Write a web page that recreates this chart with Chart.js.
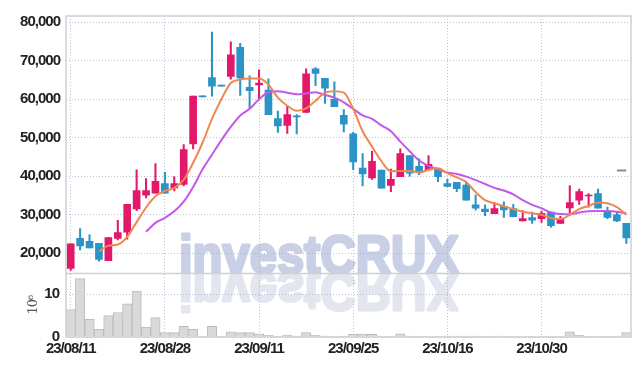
<!DOCTYPE html>
<html><head><meta charset="utf-8">
<script src="https://cdn.jsdelivr.net/npm/chart.js@4.4.0/dist/chart.umd.min.js"></script>
<style>html,body{margin:0;padding:0;background:#fff;}#wrap{width:639px;height:366px;}</style>
</head><body><div id="wrap"><canvas id="c" width="639" height="366"></canvas></div>
<script>
const dates = ["23/08/11","23/08/14","23/08/16","23/08/17","23/08/18","23/08/21","23/08/22","23/08/23","23/08/24","23/08/25",
"23/08/28","23/08/29","23/08/30","23/08/31","23/09/01","23/09/04","23/09/05","23/09/06","23/09/07","23/09/08",
"23/09/11","23/09/12","23/09/13","23/09/14","23/09/15","23/09/18","23/09/19","23/09/20","23/09/21","23/09/22",
"23/09/25","23/09/26","23/09/27","23/10/04","23/10/05","23/10/06","23/10/10","23/10/11","23/10/12","23/10/13",
"23/10/16","23/10/17","23/10/18","23/10/19","23/10/20","23/10/23","23/10/24","23/10/25","23/10/26","23/10/27",
"23/10/30","23/10/31","23/11/01","23/11/02","23/11/03","23/11/06","23/11/07","23/11/08","23/11/09","23/11/10"];
const tickLabels = ["23/08/11","23/08/28","23/09/11","23/09/25","23/10/16","23/10/30"];
const openP  = [16100,23900,23100,22600,18100,23900,25500,31500,35100,35600,38100,37000,37900,48400,60900,65600,63700,65900,73500,63100,
63700,62400,55000,53200,55700,56600,67900,65400,60000,55800,51000,42100,39600,41600,37600,39900,45400,42600,41700,41900,
38100,38400,37700,32600,31500,30300,32200,31600,28400,29300,29000,30700,27800,31800,33800,34900,35500,31000,30000,27800];
const highP  = [22500,26400,24800,22600,24100,28600,32700,41700,39400,43300,41000,39900,48200,60800,60900,77400,63700,74900,74500,66100,
67600,65300,56900,58300,56000,67900,68200,65400,64500,57300,51400,45900,46500,41600,41900,47100,45400,44500,45400,41900,
39200,38400,38600,35100,32600,33200,33400,32700,31100,30700,31000,30700,29600,37600,36700,35500,36700,32000,30800,27800];
const lowP   = [15600,20900,21400,18000,18100,23500,23700,31100,34400,35600,35600,36200,37500,47100,60600,60800,63400,65200,61000,57700,
60000,56000,51400,51100,51000,56600,63500,58900,58100,51500,41700,37500,39200,36900,36000,39900,40000,40400,41700,38600,
37400,36000,33800,31200,29800,30300,29300,29500,28400,27800,28000,26800,27800,30400,32700,32000,31700,29000,28200,22600];
const closeP = [22500,21900,21400,18400,24100,25400,32700,36300,36300,38700,35600,38100,46900,60800,60600,63400,63400,71500,65500,62200,
64200,56000,53100,56000,55400,66600,66700,62900,58100,53500,43700,40600,43900,36900,39200,45900,40800,41000,43100,39900,
37400,36800,33800,31700,30800,31600,31300,29500,29000,28600,30400,27200,29100,33200,36000,35100,31700,29300,28400,24000];
const volume = [6.4,13.6,4.1,1.8,5.0,5.7,7.7,10.7,2.3,4.5,1.0,1.0,2.5,1.8,0.05,2.5,0.05,1.2,1.0,1.0,
0.75,0.45,0.2,0.45,0.2,1.0,0.45,0.2,0.15,0.2,0.6,0.7,0.6,0.2,0.15,0.75,0.2,0.15,0.1,0.15,
0.2,0.2,0.2,0.2,0.15,0.2,0.2,0.1,0.15,0.1,0.1,0.2,0.1,1.2,0.45,0.1,0.1,0.15,0.2,1.0];
const ma5 = [null,null,null,20500,22000,22300,24300,28100,31900,34800,36200,37000,39100,43500,48700,54900,60000,64200,65100,65400,
65400,63800,60400,58300,57000,57600,59600,61700,62100,61700,57500,51700,47700,43900,41300,41400,41400,41000,41700,42100,
40800,39700,38500,35900,33800,33000,32200,31500,30800,30400,30000,29200,28900,30000,31500,32300,33200,33000,32000,30000];
const ma10 = [null,null,null,null,null,null,null,null,25600,27900,29200,30900,33400,37200,41800,45600,49400,52800,55800,57500,
60000,61800,62100,61700,61300,61500,61800,61100,60400,59200,57500,55800,54900,53200,51700,49000,46500,44100,42700,41800,
41000,40600,39900,39000,38000,37000,36300,35300,33800,32600,31700,30600,30200,30100,30600,30900,31000,31000,30800,30400];
const refMark = [null,null,null,null,null,null,null,null,null,null,null,null,null,null,null,null,null,null,null,null,
null,null,null,null,null,null,null,null,null,null,null,null,null,null,null,null,null,null,null,null,
null,null,null,null,null,null,null,null,null,null,null,null,null,null,null,null,null,null,41500,41500];
const priceTicks = [20000,30000,40000,50000,60000,70000,80000];
const volumeTicks = [0,10];
const watermark = "investCRUX";

const UP = '#e2196b', DOWN = '#2c93c6';
const upDown = dates.map((d,i)=> closeP[i] >= openP[i] ? UP : DOWN);
const bodies = dates.map((d,i)=>[Math.min(openP[i],closeP[i]), Math.max(openP[i],closeP[i])]);
const wicks = dates.map((d,i)=>[lowP[i], highP[i]]);

const FONT = "'Liberation Sans', Arial, sans-serif";
const GRID = 'rgba(165,170,205,0.75)';

const framePlugin = {
  id: 'frame',
  beforeDraw(chart){
    const {ctx, chartArea:a, scales} = chart;
    const split = scales.y.bottom;
    ctx.save();
    ctx.fillStyle = '#fff'; ctx.fillRect(0,0,chart.width,chart.height);
    ctx.font = 'bold 54px "Liberation Sans", Arial, sans-serif';
    ctx.lineJoin = 'round';
    const w = ctx.measureText(watermark).width;
    const sx = 280 / w;
    const x0 = a.left + 113;
    ctx.save();
    ctx.beginPath(); ctx.rect(a.left, a.top, a.right - a.left, split - a.top); ctx.clip();
    ctx.translate(x0, split); ctx.scale(sx, 1);
    ctx.fillStyle = '#c9d0e5'; ctx.strokeStyle = '#c9d0e5'; ctx.lineWidth = 3; ctx.textBaseline = 'alphabetic';
    ctx.fillText(watermark, 0, 0); ctx.strokeText(watermark, 0, 0);
    ctx.restore();
    ctx.save();
    ctx.beginPath(); ctx.rect(a.left, split, a.right - a.left, a.bottom - split); ctx.clip();
    ctx.translate(x0, split); ctx.scale(sx, -1);
    ctx.fillStyle = '#e4e6ef'; ctx.strokeStyle = '#e4e6ef'; ctx.lineWidth = 3; ctx.textBaseline = 'alphabetic';
    ctx.fillText(watermark, 0, 0); ctx.strokeText(watermark, 0, 0);
    ctx.restore();
    ctx.restore();
    try { ctx.letterSpacing = '-1px'; } catch(e) {}
  },
  afterDraw(chart){
    const {ctx, chartArea:a, scales} = chart;
    try { ctx.letterSpacing = '0px'; } catch(e) {}
    const split = scales.y.bottom;
    ctx.save();
    ctx.strokeStyle = '#d0d0d0'; ctx.lineWidth = 1.5;
    ctx.strokeRect(a.left, a.top, a.right - a.left, a.bottom - a.top);
    ctx.beginPath(); ctx.moveTo(a.left, split); ctx.lineTo(a.right, split); ctx.stroke();
    ctx.restore();
  }
};

new Chart(document.getElementById('c'), {
  type: 'bar',
  data: {
    labels: dates,
    datasets: [
      {type:'line', data: refMark, yAxisID:'y', borderColor:'#8a8a8a', borderWidth:2, pointRadius:0, order:0},
      {type:'line', data: ma5, yAxisID:'y', borderColor:'#ef8850', borderWidth:2, pointRadius:0, cubicInterpolationMode:'monotone', order:0},
      {type:'line', data: ma10, yAxisID:'y', borderColor:'#c458e8', borderWidth:2, pointRadius:0, cubicInterpolationMode:'monotone', order:0},
      {data: bodies, yAxisID:'y', backgroundColor: upDown, barThickness:7, grouped:false, borderWidth:0, order:1},
      {data: wicks, yAxisID:'y', backgroundColor: upDown, barThickness:1.4, grouped:false, borderWidth:0, order:2},
      {data: volume, yAxisID:'yv', backgroundColor:'#d9d9d9', borderColor:'#bcbcbc', borderWidth:1, barPercentage:1, categoryPercentage:1, grouped:false, order:3}
    ]
  },
  options: {
    responsive:false, animation:false, devicePixelRatio:1,
    layout:{padding:{top:9, right:8, left:0, bottom:0}},
    plugins:{legend:{display:false}, tooltip:{enabled:false}},
    scales:{
      x:{
        type:'category', offset:true,
        afterBuildTicks(s){ s.ticks = s.ticks.filter(t => tickLabels.includes(dates[t.value])); },
        afterFit(s){ s.height = 29; },
        ticks:{autoSkip:false, maxRotation:0, padding:3, color:'#222', font:{family:FONT, size:15, weight:'bold'}},
        grid:{offset:false, drawTicks:false, color:GRID, lineWidth:1},
        border:{display:false, dash:[1,2]}
      },
      yv:{
        type:'linear', position:'left', stack:'panel', stackWeight:65, min:0, max:14.8,
        afterBuildTicks(s){ s.ticks = volumeTicks.map(v=>({value:v})); },
        afterFit(s){ s.width = 66; },
        ticks:{padding:7, color:'#222', font:{family:FONT, size:15, weight:'bold'}},
        grid:{drawTicks:false, color:GRID},
        border:{display:false, dash:[1,2]},
        title:{display:true, text:'10⁶', color:'#555', font:{family:"'DejaVu Serif',serif", size:13}, padding:{top:26, bottom:0}}
      },
      y:{
        type:'linear', position:'left', stack:'panel', stackWeight:263, min:14800, max:81600,
        afterBuildTicks(s){ s.ticks = priceTicks.map(v=>({value:v})); },
        afterFit(s){ s.width = 66; },
        ticks:{padding:6, color:'#222', font:{family:FONT, size:15, weight:'bold'},
          callback:(v)=> v.toLocaleString('en-US')},
        grid:{drawTicks:false, color:GRID},
        border:{display:false, dash:[1,2]}
      }
    }
  },
  plugins:[framePlugin]
});
</script></body></html>
